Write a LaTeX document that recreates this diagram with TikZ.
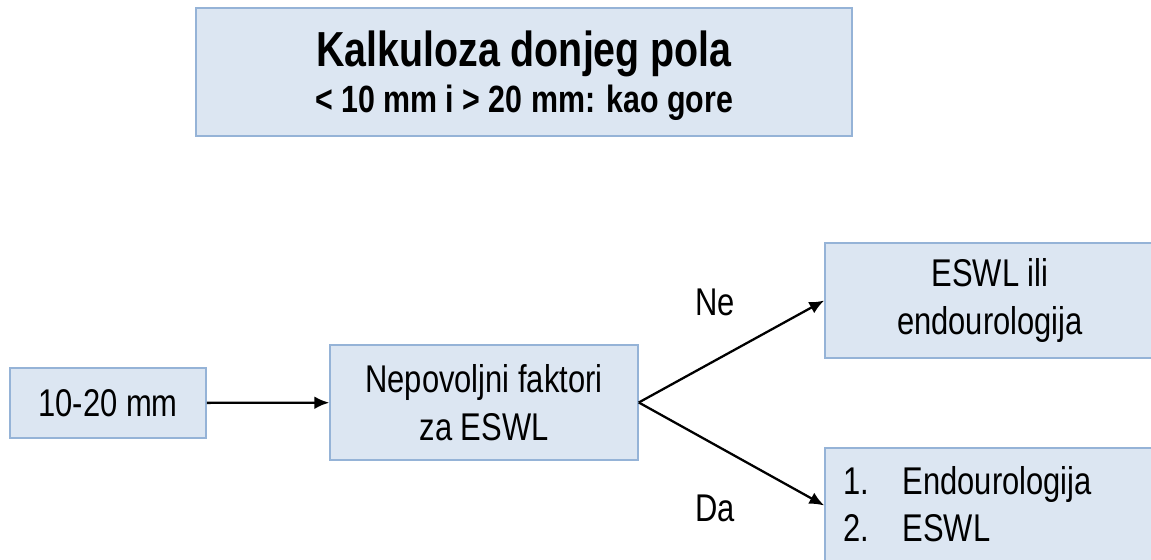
\documentclass[tikz,border=0pt]{standalone}
\usepackage{fontspec}
\setmainfont{Liberation Sans}[FakeStretch=0.8]
\usetikzlibrary{arrows.meta,positioning}

\definecolor{boxfill}{RGB}{220,230,242}
\definecolor{boxline}{RGB}{149,179,215}

\tikzset{
  stepbox/.style={draw=boxline, fill=boxfill, line width=0.45pt,
    align=center, inner sep=0pt, font=\fontsize{11}{13.5}\selectfont},
  flow/.style={->, line width=0.65pt}
}

\begin{document}
\begin{tikzpicture}[>={Latex[length=4.2pt,width=3.6pt]}]
  % Frame of the picture
  \useasboundingbox (0,0) rectangle (11.51,5.60);

  % Title
  \node [stepbox, minimum width=6.56cm, minimum height=1.28cm] (title) at (5.24,4.88) {};
  \node [align=center, inner sep=0pt] (titletext) at (5.24,4.84)
    {{\fontsize{14}{17}\selectfont\bfseries Kalkuloza donjeg pola}\\[1pt]
     {\fontsize{10.8}{13}\selectfont\bfseries < 10 mm i > 20 mm: kao gore}};

  % Stone size
  \node [stepbox, minimum width=1.96cm, minimum height=0.70cm] (size) at (1.08,1.57)
    {10-20 mm};
  % Unfavourable factors
  \node [stepbox, minimum width=3.08cm, minimum height=1.15cm] (factors) at (4.84,1.575)
    {Nepovoljni faktori\\za ESWL};
  % No
  \node [stepbox, minimum width=3.30cm, minimum height=1.15cm] (no) at (9.90,2.595)
    {ESWL ili\\endourologija};
  % Yes
  \node [stepbox, minimum width=3.30cm, minimum height=1.15cm] (yes) at (9.90,0.545) {};
  \node [font=\fontsize{11}{13.5}\selectfont, anchor=west, align=left, inner sep=0pt] (yestext) at (8.43,0.56)
    {\makebox[0.59cm][l]{1.}Endourologija\\\makebox[0.59cm][l]{2.}ESWL};

  % Branch labels
  \node [font=\fontsize{11}{13.5}\selectfont] (nelabel) at (7.15,2.58) {Ne};
  \node [font=\fontsize{11}{13.5}\selectfont] (dalabel) at (7.15,0.52) {Da};

  % Connectors
  \draw [flow] (size) -- (factors);
  \draw [flow] (factors.east) -- (no.west);
  \draw [flow] (factors.east) -- (yes.west);
\end{tikzpicture}
\end{document}
